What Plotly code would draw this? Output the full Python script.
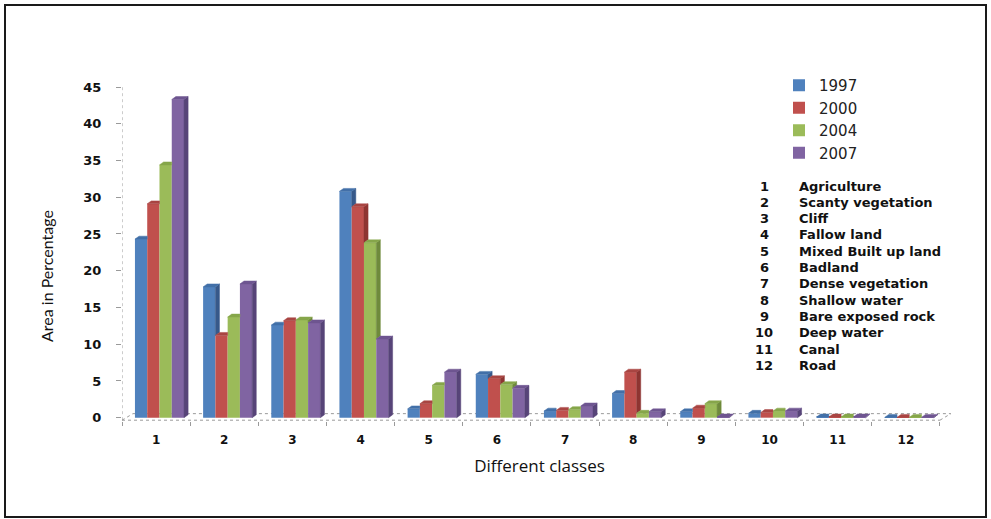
import plotly.graph_objects as go

# ---- data -------------------------------------------------------------
classes = list(range(1, 13))
class_names = [
    "Agriculture", "Scanty vegetation", "Cliff", "Fallow land",
    "Mixed Built up land", "Badland", "Dense vegetation", "Shallow water",
    "Bare exposed rock", "Deep water", "Canal", "Road",
]
years = ["1997", "2000", "2004", "2007"]
y1997 = [24.3, 17.8, 12.6, 30.8, 1.2, 5.9, 0.9, 3.3, 0.8, 0.6, 0.1, 0.05]
y2000 = [29.1, 11.2, 13.2, 28.7, 1.9, 5.3, 1.0, 6.2, 1.3, 0.7, 0.1, 0.05]
y2004 = [34.4, 13.7, 13.3, 23.8, 4.4, 4.5, 1.1, 0.6, 1.9, 0.9, 0.1, 0.05]
y2007 = [43.3, 18.2, 12.9, 10.7, 6.2, 4.0, 1.6, 0.8, 0.1, 0.9, 0.1, 0.05]
y_ticks = list(range(0, 50, 5))

# ---- style ------------------------------------------------------------
front_colors = ["#4F81BD", "#C0504D", "#9BBB59", "#8064A2"]
side_colors = ["#37598A", "#8E3532", "#6F8A3C", "#574478"]
top_colors = ["#4270A8", "#A94542", "#86A64A", "#6E5590"]

FIG_W, FIG_H = 991, 519
ML, MR, MT, MB = 122, 34, 87, 98
PW, PH = FIG_W - ML - MR, FIG_H - MT - MB
X_RANGE = [0.5, 12.75]
Y_RANGE = [-0.45, 45]

BAR_W = 0.18      # width of one bar (category units)
SHIFT = 0.05      # group shift caused by the 3D projection
DX, DY = 0.06, 0.4  # depth of the 3D extrusion (x units, y units)


def px_x(px):
    return (px - ML) / PW


def px_y(py):
    return (FIG_H - MB - py) / PH


series = [y1997, y2000, y2004, y2007]
fig = go.Figure()

# front faces
for i, (name, vals) in enumerate(zip(years, series)):
    off = SHIFT + (i - 1.5) * BAR_W
    fig.add_trace(go.Bar(
        x=[c + off for c in classes], y=vals, width=BAR_W, name=name,
        marker=dict(color=front_colors[i], line=dict(width=0)),
    ))

# side and top faces (hidden parts behind the next bar are trimmed)
for i, vals in enumerate(series):
    off = SHIFT + (i - 1.5) * BAR_W
    nxt = series[i + 1] if i + 1 < len(series) else None
    sx, sy, tx, ty = [], [], [], []
    for k, c in enumerate(classes):
        v = vals[k]
        xl = c + off - BAR_W / 2
        xr = xl + BAR_W
        vn = nxt[k] if nxt is not None else 0.0
        if v > vn:
            sx += [xr, xr + DX, xr + DX, xr, xr, None]
            sy += [vn, vn + DY, v + DY, v, vn, None]
            tx += [xl, xl + DX, xr + DX, xr, xl, None]
            ty += [v, v + DY, v + DY, v, v, None]
        else:
            tx += [xl, xl + DX, xr, xr, xl, None]
            ty += [v, v + DY, v + DY, v, v, None]
    fig.add_trace(go.Scatter(
        x=sx, y=sy, mode="lines", fill="toself", fillcolor=side_colors[i],
        line=dict(width=0.5, color=side_colors[i]), showlegend=False,
        hoverinfo="skip",
    ))
    fig.add_trace(go.Scatter(
        x=tx, y=ty, mode="lines", fill="toself", fillcolor=top_colors[i],
        line=dict(width=0.5, color=top_colors[i]), showlegend=False,
        hoverinfo="skip",
    ))

# floor and vertical axis line (dotted grey)
FLOOR_F, FLOOR_B, FLOOR_DX = -0.34, 0.55, 0.16
grey = "#9A9A9A"
shapes = [
    dict(type="line", x0=0.5, x1=12.5, y0=FLOOR_F, y1=FLOOR_F),
    dict(type="line", x0=0.5 + FLOOR_DX, x1=12.5 + FLOOR_DX, y0=FLOOR_B, y1=FLOOR_B),
    dict(type="line", x0=0.5, x1=0.5 + FLOOR_DX, y0=FLOOR_F, y1=FLOOR_B),
    dict(type="line", x0=12.5, x1=12.5 + FLOOR_DX, y0=FLOOR_F, y1=FLOOR_B),
    dict(type="line", x0=0.5, x1=0.5, y0=FLOOR_F, y1=45),
]
for s in shapes:
    s.update(xref="x", yref="y", layer="below",
             line=dict(color=grey, width=1, dash="dot"))

# outer frame
shapes.append(dict(
    type="rect", xref="paper", yref="paper",
    x0=px_x(5), x1=px_x(986), y0=px_y(517), y1=px_y(5),
    line=dict(color="#1A1A1A", width=2),
))

# class key
key_font = dict(family="DejaVu Sans", size=13, color="#111111", weight="bold")
annotations = []
for k, (c, nm) in enumerate(zip(classes, class_names)):
    yy = px_y(186 + 16.3 * k)
    annotations.append(dict(
        xref="paper", yref="paper", x=px_x(764), y=yy, text=str(c),
        showarrow=False, xanchor="center", yanchor="middle", font=key_font,
    ))
    annotations.append(dict(
        xref="paper", yref="paper", x=px_x(797), y=yy, text=nm,
        showarrow=False, xanchor="left", yanchor="middle", font=key_font,
    ))

# vertical axis title
annotations.append(dict(
    xref="paper", yref="paper", x=px_x(46), y=px_y(276),
    text="Area in Percentage", textangle=-90, showarrow=False,
    xanchor="center", yanchor="middle",
    font=dict(family="Lato", size=16, color="#111111"),
))

fig.update_layout(
    width=FIG_W, height=FIG_H,
    margin=dict(l=ML, r=MR, t=MT, b=MB, autoexpand=False),
    paper_bgcolor="white", plot_bgcolor="white",
    barmode="overlay",
    showlegend=True,
    legend=dict(
        x=px_x(779), y=px_y(69), xanchor="left", yanchor="top",
        font=dict(family="DejaVu Sans", size=15, color="#222222"),
        bgcolor="rgba(0,0,0,0)", tracegroupgap=0,
    ),
    xaxis=dict(
        range=X_RANGE, tickvals=classes, ticktext=[str(c) for c in classes],
        ticks="", showgrid=False, zeroline=False, showline=False,
        tickfont=dict(family="DejaVu Sans", size=12, color="#111111", weight="bold"),
        ticklabelstandoff=10,
        minor=dict(tickvals=[c - 0.5 for c in classes] + [12.5],
                   ticks="outside", ticklen=4, tickcolor=grey, showgrid=False),
        title=dict(text="Different classes", standoff=14,
                   font=dict(family="Open Sans", size=17, color="#111111")),
    ),
    yaxis=dict(
        range=Y_RANGE, tickvals=y_ticks, ticks="outside", ticklen=5,
        tickcolor=grey, showgrid=False, zeroline=False, showline=False,
        tickfont=dict(family="DejaVu Sans", size=13, color="#111111", weight="bold"),
        ticklabelstandoff=12,
    ),
    shapes=shapes,
    annotations=annotations,
)

fig.write_html("out.html")
